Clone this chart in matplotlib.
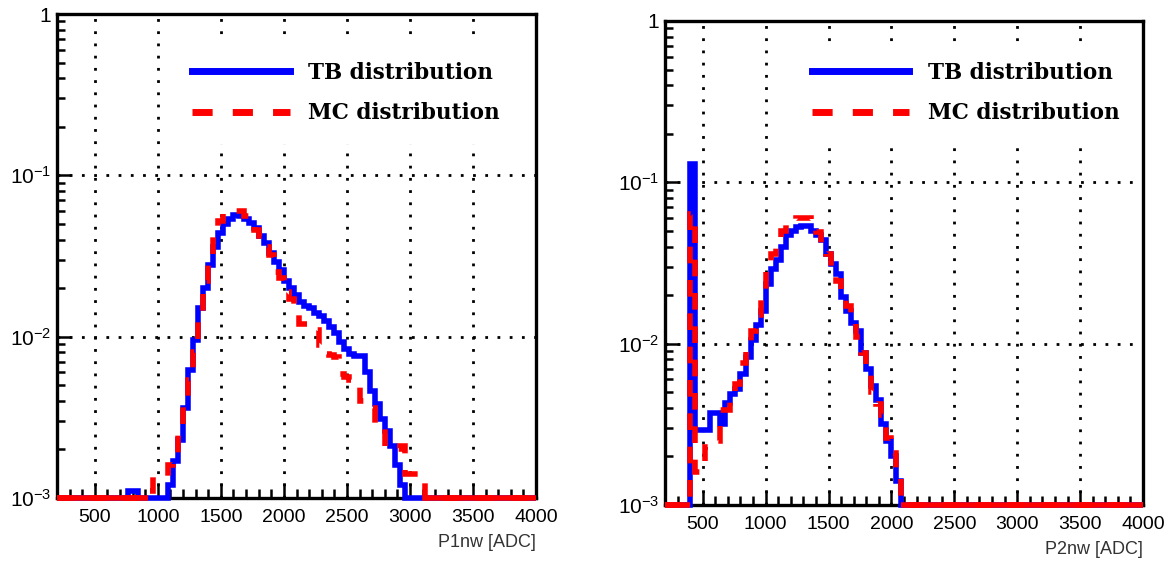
import numpy as np
import matplotlib
matplotlib.use('Agg')
import matplotlib.pyplot as plt
from matplotlib.lines import Line2D
from matplotlib.ticker import LogLocator, MultipleLocator, NullFormatter

# Histogram binning (ADC), shared by both panels
bin_width = 40
x_lo, x_hi = 200, 4000

# Left panel (P1nw): normalised counts, first bin edge given by *_start
tb1_start = 760
tb1 = [1.1e-3, 1.1e-3, 0, 0, 0, 0, 0, 0,
       1.2e-3, 1.7e-3, 2.3e-3, 3.6e-3, 6.2e-3, 9.5e-3, 1.5e-2, 2.0e-2, 2.8e-2, 3.6e-2,
       4.4e-2, 5.0e-2, 5.4e-2, 5.7e-2, 5.6e-2, 5.4e-2, 5.1e-2, 4.7e-2, 4.2e-2, 3.8e-2,
       3.3e-2, 2.9e-2, 2.6e-2, 2.2e-2, 2.0e-2, 1.8e-2, 1.65e-2, 1.55e-2, 1.5e-2, 1.4e-2,
       1.35e-2, 1.25e-2, 1.15e-2, 1.05e-2, 9.3e-3, 8.4e-3, 7.8e-3, 7.6e-3, 7.6e-3, 6.0e-3,
       4.6e-3, 3.8e-3, 3.1e-3, 2.6e-3, 2.1e-3, 1.6e-3, 1.2e-3]
mc1_start = 920
mc1 = [1.1e-3, 1.35e-3, 1.35e-3, 1.35e-3,
       1.6e-3, 1.9e-3, 2.6e-3, 3.9e-3, 5.4e-3, 8.0e-3, 1.3e-2, 2.2e-2, 3.2e-2, 4.3e-2,
       5.2e-2, 5.8e-2, 6.0e-2, 6.0e-2, 6.0e-2, 5.6e-2, 5.0e-2, 4.6e-2, 4.2e-2, 3.6e-2,
       3.2e-2, 2.5e-2, 2.3e-2, 1.9e-2, 1.7e-2, 1.45e-2, 1.2e-2, 1.2e-2, 1.15e-2, 1.1e-2,
       8.9e-3, 7.8e-3, 7.7e-3, 7.5e-3, 5.9e-3, 5.6e-3, 5.4e-3, 5.2e-3, 4.0e-3, 3.8e-3,
       3.6e-3, 2.9e-3, 2.8e-3, 2.1e-3, 2.0e-3, 2.0e-3, 2.1e-3, 1.4e-3, 1.4e-3, 1.4e-3,
       1.3e-3]

# Right panel (P2nw)
tb2_start = 400
tb2 = [0.13, 2.9e-3, 2.9e-3, 2.9e-3, 3.7e-3, 3.7e-3, 3.2e-3, 4.3e-3, 4.9e-3, 5.2e-3,
       6.5e-3, 8.3e-3, 1.05e-2, 1.3e-2, 1.6e-2, 2.35e-2, 2.9e-2, 3.3e-2, 4.0e-2, 4.7e-2,
       5.0e-2, 5.3e-2, 5.4e-2, 5.4e-2, 5.0e-2, 4.7e-2, 4.4e-2, 3.6e-2, 3.1e-2, 2.7e-2,
       1.95e-2, 1.6e-2, 1.35e-2, 1.2e-2, 8.7e-3, 7.0e-3, 5.5e-3, 4.5e-3, 3.2e-3, 2.5e-3,
       2.0e-3, 1.4e-3]
mc2_start = 400
mc2 = [6.4e-2, 1.6e-3, 1.6e-3, 2.3e-3, 2.3e-3, 2.5e-3, 3.9e-3, 3.9e-3, 4.4e-3, 5.6e-3,
       7.6e-3, 9.5e-3, 1.2e-2, 1.5e-2, 2.1e-2, 2.8e-2, 3.6e-2, 4.2e-2, 5.0e-2, 5.6e-2,
       5.9e-2, 6.0e-2, 6.0e-2, 6.0e-2, 5.6e-2, 4.9e-2, 4.0e-2, 3.6e-2, 3.0e-2, 2.45e-2,
       2.0e-2, 1.7e-2, 1.45e-2, 1.1e-2, 8.8e-3, 6.5e-3, 5.0e-3, 4.2e-3, 3.6e-3, 2.6e-3,
       2.1e-3, 1.5e-3]

x_ticks = [500, 1000, 1500, 2000, 2500, 3000, 3500, 4000]
y_ticks = [1e-3, 1e-2, 1e-1, 1]
y_ticklabels = [r'$10^{-3}$', r'$10^{-2}$', r'$10^{-1}$', '1']
labels = ['TB distribution', 'MC distribution']

y_floor = 1e-3
blue, red = '#0000ff', '#ff0000'
lw_data = 4.0

plt.rcParams['font.family'] = ['Liberation Sans', 'DejaVu Sans']
plt.rcParams['mathtext.fontset'] = 'custom'
plt.rcParams['mathtext.rm'] = 'Liberation Sans'
plt.rcParams['mathtext.it'] = 'Liberation Sans:italic'


def full_hist(start, vals):
    # put the sparse list into the full 200..4000 binning; empty bins sit on the floor
    edges = np.arange(x_lo, x_hi + 1, bin_width)
    h = np.zeros(len(edges) - 1)
    i0 = (start - x_lo) // bin_width
    h[i0:i0 + len(vals)] = vals
    return edges, h


def draw_panel(ax, tb, mc, xlabel, leg_anchor):
    e, h = full_hist(*tb)
    ax.stairs(np.clip(h, y_floor, None), e, baseline=None, color=blue, lw=lw_data,
              clip_on=False, zorder=3)
    e, h = full_hist(*mc)
    ax.stairs(np.clip(h, y_floor, None), e, baseline=None, color=red, lw=lw_data,
              linestyle=(0, (3, 3)), clip_on=False, zorder=4)
    # empty MC bins lie along the frame as a solid line
    nz = np.nonzero(h)[0]
    ax.hlines([y_floor, y_floor], [x_lo, e[nz[-1] + 1]], [e[nz[0]], x_hi], color=red,
              lw=lw_data, clip_on=False, zorder=4)

    ax.set_yscale('log')
    ax.set_xlim(x_lo, x_hi)
    ax.set_ylim(1e-3, 1)
    ax.set_xticks(x_ticks)
    ax.xaxis.set_minor_locator(MultipleLocator(100))
    ax.set_yticks(y_ticks)
    ax.set_yticklabels(y_ticklabels)
    ax.yaxis.set_minor_locator(LogLocator(base=10, subs=np.arange(2, 10)))
    ax.yaxis.set_minor_formatter(NullFormatter())
    ax.tick_params(which='both', direction='in', top=False, right=False, width=1.8,
                   labelcolor='black')
    ax.tick_params(axis='x', which='major', length=11, pad=8, labelsize=14)
    ax.tick_params(axis='x', which='minor', length=6.5)
    ax.tick_params(axis='y', which='major', length=10, pad=4, labelsize=15)
    ax.tick_params(axis='y', which='minor', length=6)
    ax.grid(True, which='major', color='black', lw=2.0, linestyle=(0, (1, 3.4)))
    for s in ax.spines.values():
        s.set_linewidth(2.4)
    ax.set_xlabel(xlabel, loc='right', fontsize=13, color='#333333', labelpad=6)

    handles = [Line2D([], [], color=blue, lw=5),
               Line2D([], [], color=red, lw=5, linestyle=(0, (2.9, 2.9)))]
    leg = ax.legend(handles, labels, loc='upper left', bbox_to_anchor=leg_anchor,
                    frameon=True, fancybox=False, facecolor='white', edgecolor='none',
                    framealpha=1, handlelength=4.55, handletextpad=0.84, labelspacing=0.86,
                    borderpad=0.9, borderaxespad=0,
                    prop={'family': 'DejaVu Serif', 'weight': 'bold', 'size': 15.5})
    leg.set_zorder(5)


def main():
    fig = plt.figure(figsize=(11.69, 5.64), dpi=100)
    ax1 = fig.add_axes([57 / 1169, 66 / 564, 479 / 1169, 484 / 564])
    ax2 = fig.add_axes([665 / 1169, 59 / 564, 478 / 1169, 484 / 564])
    draw_panel(ax1, (tb1_start, tb1), (mc1_start, mc1), 'P1nw [ADC]', (0.241, 0.941))
    draw_panel(ax2, (tb2_start, tb2), (mc2_start, mc2), 'P2nw [ADC]', (0.266, 0.956))
    fig.savefig('out.png', dpi=100)
    plt.close(fig)


if __name__ == '__main__':
    main()
